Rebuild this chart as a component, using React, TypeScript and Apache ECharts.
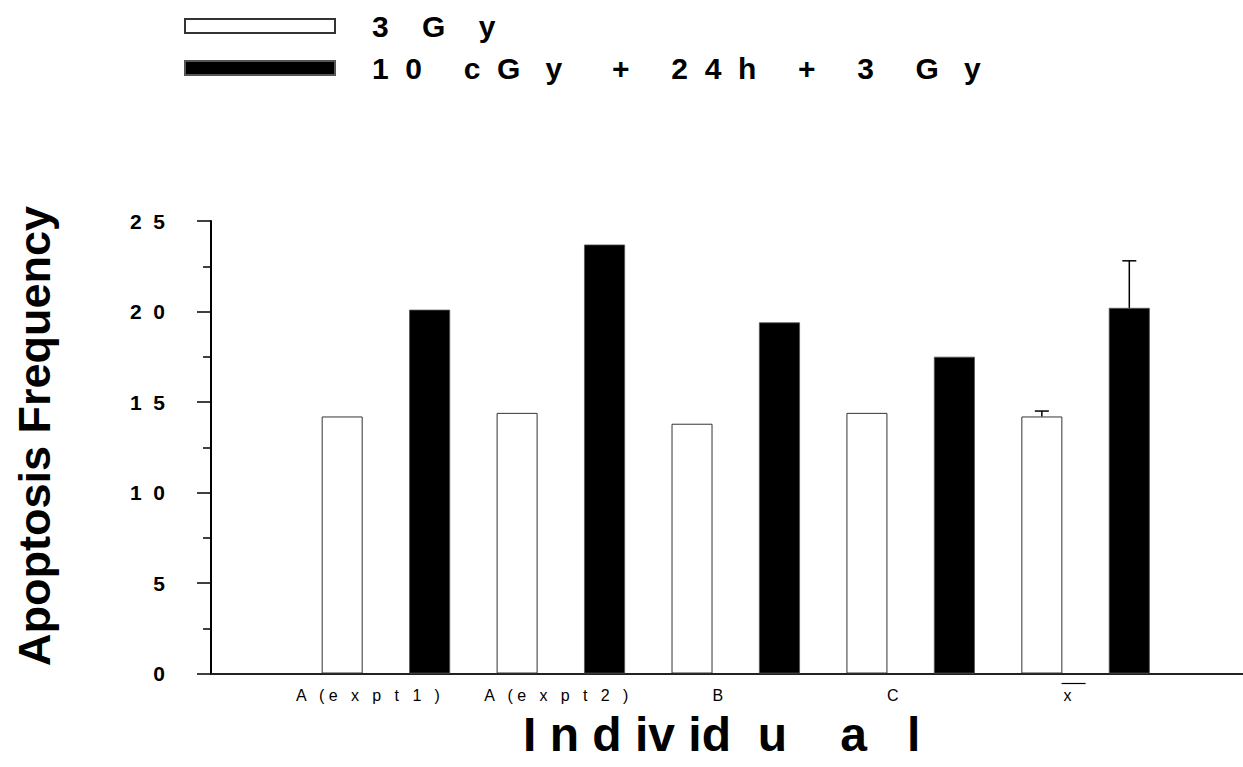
import React, { useEffect, useRef } from "react";
import * as echarts from "echarts";

// Individuals along the x axis (letter-spaced as printed); the last is the mean
const individuals = [
  "A   ( e   x   p   t   1   )",
  "A   ( e   x   p   t   2   )",
  "B",
  "C",
  "x",
];
// rich-text style that nudges each label left of its pair centre
const labelNudge = ["nudgeWide", "nudgeNarrow", "nudgeWide", "nudgeWide", "nudgeWide"];
const MEAN_INDEX = 4;

// Apoptosis frequency per individual
const dose3Gy = [14.2, 14.4, 13.8, 14.4, 14.2];
const primedDose = [20.1, 23.7, 19.4, 17.5, 20.2];

// Upper error (SD) shown on the mean only
const dose3GyErr = [0, 0, 0, 0, 0.3];
const primedDoseErr = [0, 0, 0, 0, 2.6];

const seriesNames = ["3 Gy", "10 cGy + 24h + 3 Gy"];
const legendText: Record<string, string> = {
  "3 Gy": "3    G    y",
  "10 cGy + 24h + 3 Gy":
    "1  0     c  G   y      +     2  4  h     +     3     G   y",
};

const yTicks = { min: 0, max: 25, step: 5 };

const FONT = "'Liberation Sans', Arial, Helvetica, sans-serif";
const PAIR_OFFSET = 0.25; // half the distance between paired bars, in category units

export default function App() {
  const ref = useRef<HTMLDivElement>(null);

  useEffect(() => {
    if (!ref.current) return;
    const chart = echarts.init(ref.current, undefined, { renderer: "svg" });

    const errorSeries = (values: number[], errs: number[], shift: number) => ({
      type: "custom",
      z: 5,
      silent: true,
      encode: { x: 0, y: [1, 2] },
      data: values.map((v, i) => [i + 1 + shift, v, v + errs[i]]),
      renderItem: (_p: any, api: any) => {
        const x = api.value(0);
        const y = api.value(1);
        const hi = api.value(2);
        if (hi <= y) return null;
        const base = api.coord([x, y]);
        const top = api.coord([x, hi]);
        const style = { stroke: "#000", lineWidth: 1.5 };
        return {
          type: "group",
          children: [
            { type: "line", shape: { x1: base[0], y1: base[1], x2: top[0], y2: top[1] }, style },
            { type: "line", shape: { x1: top[0] - 7, y1: top[1], x2: top[0] + 7, y2: top[1] }, style },
          ],
        };
      },
    });

    const labelFormatter = (v: number) => {
      if (!Number.isInteger(v) || v < 1 || v > individuals.length) return "";
      const i = v - 1;
      const over = i === MEAN_INDEX ? "{bar| }{barPad| }" : "{none| }";
      return `${over}\n{t|${individuals[i]}}{${labelNudge[i]}| }`;
    };

    chart.setOption({
      animation: false,
      backgroundColor: "#fff",
      textStyle: { fontFamily: FONT },
      grid: { left: 211, right: 0, top: 221, bottom: 93.5, containLabel: false },
      legend: {
        orient: "vertical",
        left: 184,
        top: 11,
        padding: 0,
        itemWidth: 150,
        itemHeight: 14,
        itemGap: 12,
        icon: "rect",
        selectedMode: false,
        data: seriesNames,
        formatter: (name: string) => legendText[name] ?? name,
        textStyle: {
          fontFamily: FONT,
          fontSize: 30,
          fontWeight: "bold",
          color: "#000",
          lineHeight: 30,
          padding: [0, 0, 0, 32],
        },
      },
      xAxis: {
        type: "value",
        min: 0,
        max: 5.9,
        interval: 1,
        splitLine: { show: false },
        axisTick: { show: false },
        axisLine: { show: true, lineStyle: { color: "#222", width: 2 } },
        axisLabel: {
          showMaxLabel: false,
          fontFamily: FONT,
          fontSize: 16,
          color: "#000",
          margin: 6,
          formatter: labelFormatter,
          rich: {
            t: { fontFamily: FONT, fontSize: 16, lineHeight: 16, color: "#000" },
            none: { width: 1, height: 2, lineHeight: 8, fontSize: 4 },
            bar: { width: 24, height: 1.2, lineHeight: 8, fontSize: 4, backgroundColor: "#000" },
            barPad: { width: 24, height: 1.2, lineHeight: 8, fontSize: 4 },
            nudgeWide: { width: 36, fontSize: 16, lineHeight: 16 },
            nudgeNarrow: { width: 9, fontSize: 16, lineHeight: 16 },
          },
        },
      },
      yAxis: {
        type: "value",
        min: yTicks.min,
        max: yTicks.max,
        interval: yTicks.step,
        splitLine: { show: false },
        axisLine: { show: true, lineStyle: { color: "#000", width: 2 } },
        axisTick: { show: true, length: 14, lineStyle: { color: "#000", width: 1.5 } },
        minorTick: { show: true, splitNumber: 2, length: 8, lineStyle: { color: "#000", width: 1.5 } },
        axisLabel: {
          fontFamily: FONT,
          fontSize: 21,
          fontWeight: "bold",
          color: "#000",
          margin: 46,
          formatter: (v: number) => String(v).split("").join("  "),
        },
      },
      graphic: [
        {
          type: "text",
          x: 34,
          y: 436,
          rotation: Math.PI / 2,
          style: {
            text: "Apoptosis Frequency",
            fontFamily: FONT,
            fontSize: 45,
            fontWeight: "bold",
            fill: "#000",
            align: "center",
            verticalAlign: "middle",
          },
        },
        {
          type: "text",
          x: 523,
          y: 734,
          style: {
            text: "I n d iv id  u    a   l",
            fontFamily: FONT,
            fontSize: 48,
            lineHeight: 34,
            fontWeight: "bold",
            fill: "#000",
            align: "left",
            verticalAlign: "middle",
          },
        },
      ],
      series: [
        {
          name: seriesNames[0],
          type: "bar",
          barWidth: 41,
          barGap: "-100%",
          itemStyle: { color: "#fff", borderColor: "#333", borderWidth: 1 },
          data: dose3Gy.map((v, i) => [i + 1 - PAIR_OFFSET, v]),
        },
        {
          name: seriesNames[1],
          type: "bar",
          barWidth: 41,
          barGap: "-100%",
          itemStyle: { color: "#000", borderColor: "#555", borderWidth: 0.8 },
          data: primedDose.map((v, i) => [i + 1 + PAIR_OFFSET, v]),
        },
        errorSeries(dose3Gy, dose3GyErr, -PAIR_OFFSET),
        errorSeries(primedDose, primedDoseErr, PAIR_OFFSET),
      ],
    });

    return () => chart.dispose();
  }, []);

  return (
    <div
      ref={ref}
      style={{ position: "absolute", left: 0, top: 0, width: 1243, height: 767 }}
    />
  );
}
